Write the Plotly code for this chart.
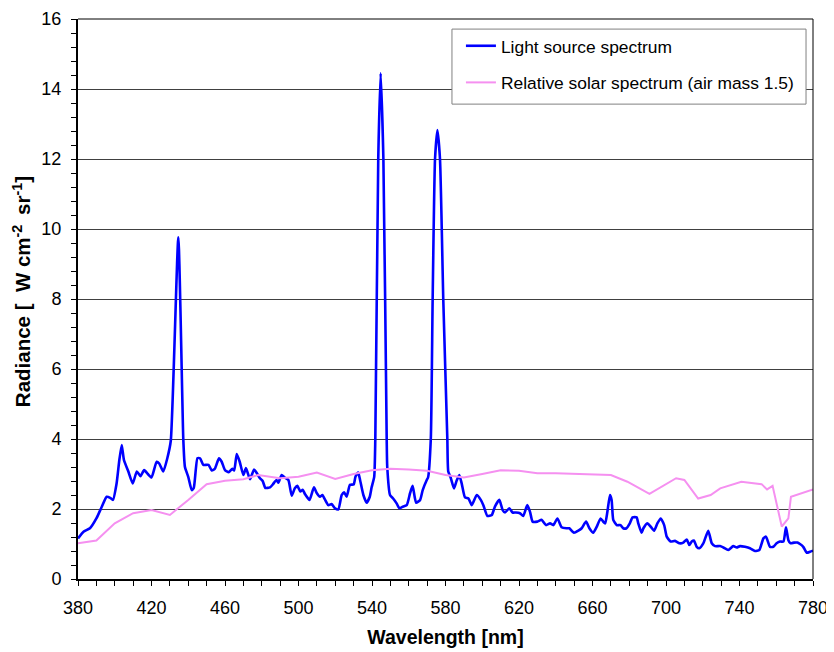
import plotly.graph_objects as go

# Light source spectrum (blue)
src_wl = [380, 383, 386.5, 390, 393, 395.6, 397.5, 399, 401, 402.5, 403.8, 405, 407.4, 409.8, 412, 414, 416, 418, 420,
          422.8, 424.2, 426.4, 428.6, 430.5, 434.6, 437.3, 438.2, 440, 441.9, 443, 445, 446.4, 448.2, 451, 452.8,
          454.5, 456.7, 458.2, 460, 462, 464, 465, 466.4, 468, 470, 471.4, 473.6, 475.8, 477, 479, 480.5, 482,
          484.5, 486, 488, 489, 490.8, 492.5, 494.5, 496.3, 498, 499.4, 501, 502.3, 503.5, 506, 508.4, 510, 511.7,
          513, 514.3, 516.2, 518, 519.9, 521.7, 523.5, 524.8, 526.2, 528, 530, 531, 532.5, 533.5, 535.3, 537.1,
          538.8, 539.8, 541.2, 541.8, 543.4, 544.7, 546.2, 548, 548.3, 549.8, 551.5, 553.4, 554.9, 556.5, 558.9,
          560.7, 562.1, 564, 566.2, 567.6, 569.8, 570.5, 572, 573, 574.3, 575.6, 577, 578.8, 581, 581.5, 582.8,
          584.6, 586, 587.5, 588.8, 590.6, 592.5, 594.3, 597, 599.2, 600.6, 602.8, 605.2, 606.9, 609.3, 611.1,
          612.4, 614.7, 616.5, 618.3, 620.5, 622.3, 624.5, 626, 627.4, 630, 632.3, 634.7, 636.9, 638.7, 640.9,
          643.2, 645.9, 647.4, 649.9, 652.3, 654.1, 656.5, 658.3, 660.4, 662.2, 664.4, 665.8, 666.9, 668.1, 669.5,
          670.4, 671.3, 673.2, 675.3, 676.7, 678.5, 680.3, 681.8, 684, 684.9, 686.7, 687.7, 689.8, 691.6, 693.5,
          695.3, 697.1, 699, 700.4, 702.5, 704.9, 707.3, 709.4, 711.3, 712.7, 714, 715.2, 716.7, 718.1, 720.3,
          723, 724.9, 726.7, 729.4, 731.2, 733.9, 736.6, 738.5, 740.3, 743, 745.7, 748.4, 750.8, 753, 754.4,
          756.6, 758.4, 760.2, 762, 763.9, 765.3, 766.6, 767.8, 769.7, 771.5, 772.9, 774.7, 776.6, 778.4, 780]
src_val = [1.16, 1.35, 1.45, 1.73, 2.07, 2.35, 2.32, 2.26, 2.73, 3.4, 3.83, 3.4, 3.07, 2.73, 3.07, 2.94, 3.11, 3.0, 2.9,
           3.35, 3.3, 3.07, 3.45, 3.95, 9.76, 4.0, 3.2, 2.92, 2.54, 2.6, 3.45, 3.45, 3.26, 3.26, 3.1,
           3.15, 3.45, 3.35, 3.11, 3.05, 3.15, 3.1, 3.57, 3.35, 2.97, 3.17, 2.85, 3.13, 3.05, 2.88, 2.8, 2.6,
           2.62, 2.7, 2.83, 2.75, 2.97, 2.9, 2.83, 2.38, 2.59, 2.66, 2.5, 2.55, 2.43, 2.26, 2.62, 2.45, 2.35,
           2.4, 2.28, 2.11, 2.14, 2.02, 1.99, 2.4, 2.48, 2.35, 2.69, 2.7, 2.92, 3.04, 2.83, 2.4, 2.18,
           2.35, 2.62, 2.92, 4.0, 12.0, 14.45, 12.0, 4.0, 3.2, 2.4, 2.3, 2.16, 2.02, 2.06, 2.11,
           2.45, 2.66, 2.18, 2.26, 2.54, 2.83, 2.9, 4.0, 7.97, 12.0, 12.83, 12.0, 7.97, 4.0, 3.07, 2.9,
           2.59, 2.8, 2.97, 2.73, 2.33, 2.3, 2.11, 2.4, 2.26, 2.11, 1.8, 1.83, 2.07, 2.26, 1.97,
           1.9, 2.02, 1.9, 1.9, 1.88, 1.8, 2.11, 1.92, 1.64, 1.64, 1.69, 1.54, 1.59, 1.54, 1.73,
           1.48, 1.45, 1.45, 1.32, 1.38, 1.45, 1.64, 1.45, 1.32, 1.48, 1.73, 1.64, 1.59, 1.92, 2.4,
           2.26, 1.69, 1.54, 1.54, 1.45, 1.45, 1.59, 1.76, 1.76, 1.59, 1.32, 1.45, 1.59, 1.5, 1.38,
           1.59, 1.73, 1.54, 1.21, 1.07, 1.09, 1.02, 1.04, 1.13, 0.97, 1.07, 1.1, 0.92, 0.88, 1.02,
           1.38, 1.02, 0.94, 0.94, 0.9, 0.83, 0.94, 0.9, 0.94, 0.92, 0.88, 0.8, 0.83, 1.16, 1.21,
           0.92, 0.92, 1.02, 1.07, 1.07, 1.48, 1.11, 1.02, 1.04, 1.04, 1.0, 0.92, 0.75, 0.78, 0.81]

# Relative solar spectrum (pink)
sol_wl = [380, 390, 400, 410, 420, 430, 440, 450, 460, 470, 478, 490, 500, 510, 520, 530, 540, 550, 560, 570, 580,
          590, 600, 610, 620, 630, 640, 650, 660, 670, 679, 691, 705.5, 710, 717.5, 724.3, 729.5, 741, 752, 755,
          758, 763, 766.6, 768, 780]
sol_val = [1.02, 1.1, 1.59, 1.88, 1.97, 1.83, 2.26, 2.71, 2.81, 2.85, 2.97, 2.88, 2.92, 3.04, 2.86, 3.0, 3.11, 3.15,
           3.13, 3.09, 2.97, 2.9, 3.0, 3.11, 3.09, 3.02, 3.02, 3.01, 3.0, 2.97, 2.78, 2.43, 2.88, 2.83, 2.3, 2.4,
           2.59, 2.78, 2.71, 2.56, 2.66, 1.5, 1.73, 2.35, 2.56]

x_ticks = [380, 420, 460, 500, 540, 580, 620, 660, 700, 740, 780]
y_ticks = [0, 2, 4, 6, 8, 10, 12, 14, 16]

FONT = "Liberation Sans, Arial, sans-serif"

# The page body has an 8px default margin, so the figure is sized to fit the remaining window.
fig = go.Figure()
fig.add_trace(go.Scatter(x=src_wl, y=src_val, mode="lines", name="Light source spectrum",
                         line=dict(color="#0000ff", width=2.6, shape="spline", smoothing=0.5),
                         legendgroup="a"))
fig.add_trace(go.Scatter(x=sol_wl, y=sol_val, mode="lines", name="Relative solar spectrum (air mass 1.5)",
                         line=dict(color="#f590f0", width=2), legendgroup="b"))

fig.update_layout(
    width=826, height=644,
    margin=dict(l=70, r=21, t=11, b=73),
    paper_bgcolor="white", plot_bgcolor="white",
    font=dict(family=FONT, size=18, color="black"),
    showlegend=True,
    legend=dict(x=0.521, y=0.984, xanchor="left", yanchor="top",
                bgcolor="rgba(0,0,0,0)", borderwidth=0,
                font=dict(size=17.4), traceorder="grouped", tracegroupgap=11,
                itemwidth=30),
    xaxis=dict(range=[380, 780], tickvals=x_ticks, showgrid=False, zeroline=False, automargin=False,
               showline=True, linecolor="black", linewidth=2,
               ticks="outside", ticklen=5, tickcolor="black", tickwidth=1, ticklabelstandoff=6,
               minor=dict(dtick=10, ticks="outside", ticklen=5, tickcolor="black", showgrid=False),
               title=dict(text="<b>Wavelength [nm]</b>", font=dict(size=19.5), standoff=14)),
    yaxis=dict(range=[0, 16], tickvals=y_ticks, showgrid=True, gridcolor="#404040", gridwidth=1,
               zeroline=False, showline=True, linecolor="black", linewidth=2, automargin=False,
               ticks="outside", ticklen=5, tickcolor="black", tickwidth=1, ticklabelstandoff=6,
               minor=dict(dtick=0.4, ticks="outside", ticklen=5, tickcolor="black", showgrid=False)),
)
# legend frame (white box with grey border)
fig.add_shape(type="rect", xref="paper", yref="paper", x0=0.5088, x1=0.9905, y0=0.848, y1=0.982,
              fillcolor="white", line=dict(color="#808080", width=1), layer="above")
# plot-area border (right and top)
fig.add_shape(type="line", xref="paper", yref="paper", x0=1, x1=1, y0=0, y1=1,
              line=dict(color="black", width=1))
fig.add_shape(type="line", xref="paper", yref="paper", x0=0, x1=1, y0=1, y1=1,
              line=dict(color="black", width=1))
# y-axis title
fig.add_annotation(text="<b>Radiance [  W cm<sup>-2 </sup> sr<sup>-1</sup>]</b>", textangle=-90,
                   xref="paper", yref="paper", x=-0.0762, y=0.514, xanchor="center", yanchor="middle",
                   showarrow=False, font=dict(size=20.5))

fig.write_html("out.html")
